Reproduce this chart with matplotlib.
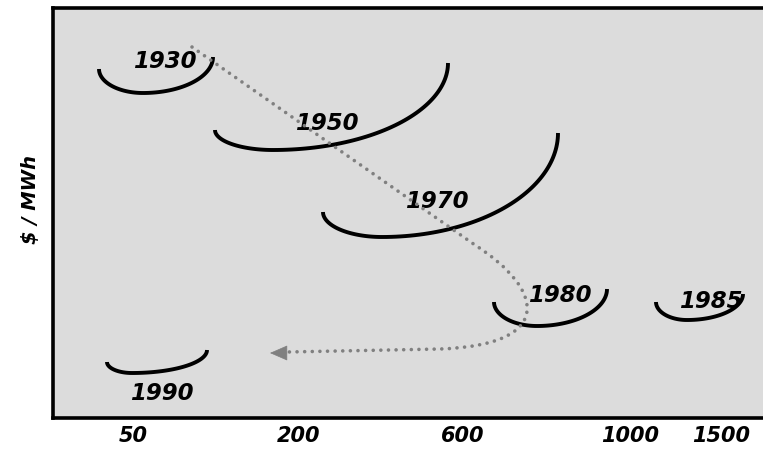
import numpy as np
import matplotlib.pyplot as plt
from matplotlib.path import Path
from matplotlib.patches import PathPatch

# cost curves per era (schematic, image-like coordinates, y grows downward)
years = ['1930', '1950', '1970', '1980', '1985', '1990']
left_x = [99, 215, 323, 494, 656, 107]
left_y = [69, 130, 212, 302, 302, 362]
low_x = [143, 273, 382, 537, 687, 132]
low_y = [93, 150, 237, 326, 320, 373]
right_x = [213, 448, 558, 607, 743, 207]
right_y = [57, 63, 133, 289, 294, 350]
label_x = [165, 327, 437, 560, 711, 162]
label_y = [62, 123, 201, 295, 301, 393]

# plant size ticks (MW)
size_labels = ['50', '200', '600', '1000', '1500']
size_pos = [133, 299, 463, 630, 721]

# trend arrow waypoints
trend_start = (192, 47)
trend_bend = (475, 245)
trend_ctrl1 = (545, 290)
trend_ctrl2 = (555, 345)
trend_turn = (440, 349)
trend_end = (287, 352)
arrow_tip = (270, 353)

font = dict(family='DejaVu Sans', weight='bold', style='italic')

fig = plt.figure(figsize=(7.63, 4.73), dpi=100)
ax = fig.add_axes([53 / 763, 1 - 418 / 473, 1 - 53 / 763, (418 - 8) / 473])
ax.set_facecolor('#dcdcdc')
ax.set_xlim(53, 763)
ax.set_ylim(418, 8)

t = np.linspace(0, np.pi / 2, 60)
for i in range(len(years)):
    # two quarter-ellipses joined at the lowest point
    xl = low_x[i] - (low_x[i] - left_x[i]) * np.sin(t)
    yl = low_y[i] - (low_y[i] - left_y[i]) * (1 - np.cos(t))
    xr = low_x[i] + (right_x[i] - low_x[i]) * np.sin(t)
    yr = low_y[i] - (low_y[i] - right_y[i]) * (1 - np.cos(t))
    ax.plot(xl, yl, color='black', lw=2.8, solid_capstyle='butt', zorder=2)
    ax.plot(xr, yr, color='black', lw=2.8, solid_capstyle='butt', zorder=2)
    ax.text(label_x[i], label_y[i], years[i], ha='center', va='center',
            fontsize=16.5, zorder=3, **font)

verts = [trend_start, trend_bend, trend_ctrl1, trend_ctrl2, trend_turn, trend_end]
codes = [Path.MOVETO, Path.LINETO, Path.CURVE4, Path.CURVE4, Path.CURVE4, Path.LINETO]
trend = PathPatch(Path(verts, codes), facecolor='none', edgecolor='#808080',
                  lw=2.6, linestyle=(0, (0.01, 2.1)), zorder=4)
trend.set_capstyle('round')
ax.add_patch(trend)
ax.annotate('', xy=arrow_tip, xytext=(arrow_tip[0] + 17, arrow_tip[1]),
            arrowprops=dict(arrowstyle='-|>,head_length=1.15,head_width=0.5',
                            color='#808080', lw=0.5, shrinkA=0, shrinkB=0,
                            mutation_scale=10), zorder=4)

ax.set_xticks(size_pos)
ax.set_xticklabels(size_labels, fontsize=15, **font)
ax.set_yticks([])
ax.tick_params(axis='x', length=0, pad=6)
ax.set_ylabel('$ / MWh', fontsize=14, **font)
ax.yaxis.set_label_coords(-0.018, 0.534)

for side in ['left', 'top', 'bottom']:
    ax.spines[side].set_linewidth(2.6)
ax.spines['right'].set_visible(False)

fig.savefig('out.png', dpi=100)
